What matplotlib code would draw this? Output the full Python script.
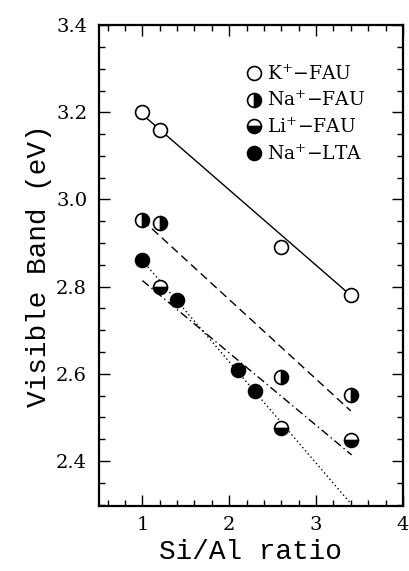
import matplotlib
matplotlib.use("Agg")
import matplotlib.pyplot as plt
from matplotlib.ticker import MultipleLocator, FormatStrFormatter

# Si/Al ratio and visible band energy (eV) for each zeolite
k_fau_ratio = [1.0, 1.2, 2.6, 3.4]
k_fau_band = [3.20, 3.16, 2.89, 2.78]

na_fau_ratio = [1.0, 1.2, 2.6, 3.4]
na_fau_band = [2.953, 2.947, 2.593, 2.551]

li_fau_ratio = [1.2, 2.6, 3.4]
li_fau_band = [2.80, 2.475, 2.449]

na_lta_ratio = [1.0, 1.4, 2.1, 2.3]
na_lta_band = [2.861, 2.769, 2.609, 2.561]

# fitted trend lines, end points
k_fit_ratio = [1.0, 3.4]
k_fit_band = [3.195, 2.78]
na_fit_ratio = [1.0, 3.4]
na_fit_band = [2.953, 2.515]
li_fit_ratio = [1.0, 3.41]
li_fit_band = [2.814, 2.414]
lta_fit_ratio = [1.0, 3.41]
lta_fit_band = [2.86, 2.30]

plt.rcParams["font.family"] = ["DejaVu Serif"]
plt.rcParams["mathtext.fontset"] = "dejavuserif"
plt.rcParams["xtick.labelsize"] = 14
plt.rcParams["ytick.labelsize"] = 14

fig = plt.figure(figsize=(4.09, 5.71), dpi=100)
ax = fig.add_axes([0.242, 0.114, 0.743, 0.842])

ax.plot(k_fit_ratio, k_fit_band, color="black", linewidth=1.0, linestyle="-")
ax.plot(na_fit_ratio, na_fit_band, color="black", linewidth=1.0, linestyle=(0, (6, 3.5)))
ax.plot(li_fit_ratio, li_fit_band, color="black", linewidth=1.0, linestyle=(0, (6, 2.5, 1, 2.5)))
ax.plot(lta_fit_ratio, lta_fit_band, color="black", linewidth=1.0, linestyle=(0, (1, 2)))

marker_style = dict(linestyle="none", marker="o", markersize=10,
                    markeredgecolor="black", markeredgewidth=1.2)

ax.plot(k_fau_ratio, k_fau_band, markerfacecolor="white",
        label="K$^{+}$$-$FAU", **marker_style)
ax.plot(na_fau_ratio, na_fau_band, fillstyle="right", markerfacecolor="black",
        markerfacecoloralt="white", label="Na$^{+}$$-$FAU", **marker_style)
ax.plot(li_fau_ratio, li_fau_band, fillstyle="bottom", markerfacecolor="black",
        markerfacecoloralt="white", label="Li$^{+}$$-$FAU", **marker_style)
ax.plot(na_lta_ratio, na_lta_band, markerfacecolor="black",
        label="Na$^{+}$$-$LTA", **marker_style)

ax.set_xlim(0.5, 4.0)
ax.set_ylim(2.297, 3.4)

ax.xaxis.set_major_locator(MultipleLocator(1))
ax.xaxis.set_minor_locator(MultipleLocator(0.2))
ax.yaxis.set_major_locator(MultipleLocator(0.2))
ax.yaxis.set_minor_locator(MultipleLocator(0.05))
ax.yaxis.set_major_formatter(FormatStrFormatter("%.1f"))

ax.tick_params(which="both", direction="in", top=True, right=True, width=1.0)
ax.tick_params(which="major", length=8)
ax.tick_params(which="minor", length=4.5)
ax.tick_params(axis="y", pad=8.5)
ax.tick_params(axis="x", pad=7)

for spine in ax.spines.values():
    spine.set_linewidth(1.6)

ax.set_xlabel("Si/Al ratio", family="Liberation Mono", fontsize=20, labelpad=4)
ax.set_ylabel("Visible Band (eV)", family="Liberation Mono", fontsize=20, labelpad=3)

ax.legend(loc="upper left", bbox_to_anchor=(0.48, 0.918), frameon=False,
          fontsize=13.5, handletextpad=0.2, labelspacing=0.38, borderpad=0,
          borderaxespad=0, handlelength=1.0)

fig.savefig("out.png", dpi=100)
